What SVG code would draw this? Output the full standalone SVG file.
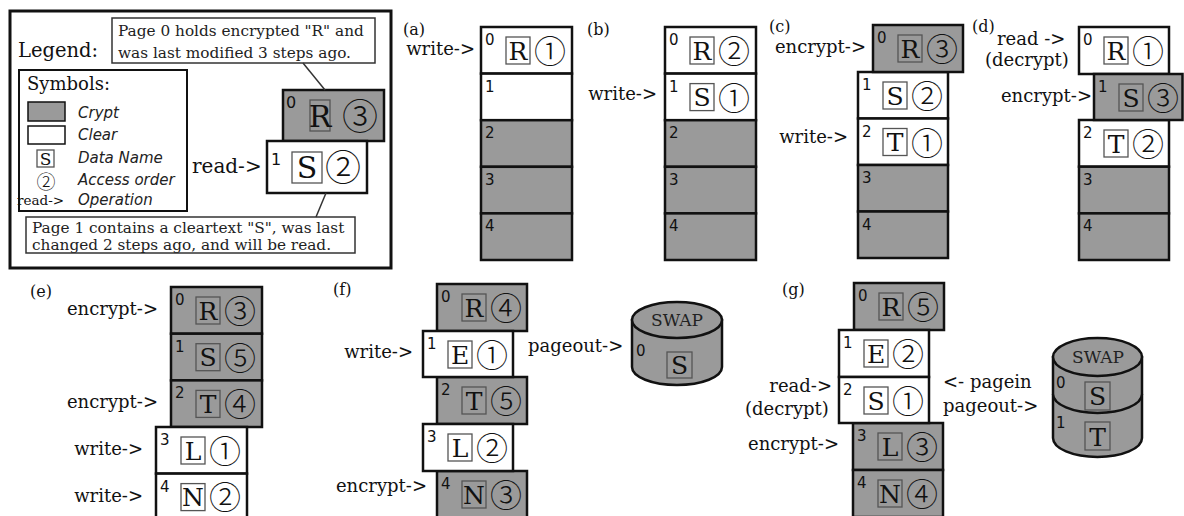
<svg xmlns="http://www.w3.org/2000/svg" width="1184" height="516" viewBox="0 0 1184 516">
<defs>
<style>
.cw{fill:#fff;stroke:#111;stroke-width:2.5}
.cg{fill:#9a9a9a;stroke:#111;stroke-width:2.5}
.num{font-family:"DejaVu Sans",sans-serif;font-size:15px;fill:#111}
.lb{fill:none;stroke:#555;stroke-width:1.3}
.let{font-family:"DejaVu Serif",serif;font-size:25px;text-anchor:middle;fill:#111}
.ord{font-family:"Noto Sans CJK JP","DejaVu Sans",sans-serif;font-size:32px;font-weight:300;text-anchor:middle;fill:#111}
.op{font-family:"DejaVu Serif",serif;font-size:18px;fill:#111}
.end{text-anchor:end}
.pl{font-family:"DejaVu Serif",serif;font-size:16px;fill:#111}
.call{font-family:"DejaVu Serif",serif;font-size:15.3px;fill:#222}
.cbox{fill:#fff;stroke:#333;stroke-width:1.5}
.it{font-family:"DejaVu Sans",sans-serif;font-style:italic;font-size:15px;fill:#222}
.swap{fill:#9a9a9a;stroke:#111;stroke-width:2.5}
.swt{font-family:"DejaVu Serif",serif;font-size:17px;text-anchor:middle;fill:#222}
.conn{stroke:#333;stroke-width:1.5;fill:none}
</style>
</defs>
<rect width="1184" height="516" fill="#fff"/>

<!-- Legend -->
<g id="legend">
<rect x="10" y="11" width="381" height="257" fill="#fff" stroke="#111" stroke-width="3"/>
<text x="18" y="57" font-family="DejaVu Serif,serif" font-size="19.5" fill="#111">Legend:</text>
<g id="callout-top">
<rect class="cbox" x="112" y="18" width="263" height="45"/>
<text class="call" x="118" y="36">Page 0 holds encrypted "R" and</text>
<text class="call" x="118" y="58">was last modified 3 steps ago.</text>
</g>
<g id="symbols">
<rect x="19" y="70" width="168" height="141" fill="#fff" stroke="#111" stroke-width="2"/>
<text x="27" y="90" font-family="DejaVu Serif,serif" font-size="18" fill="#111">Symbols:</text>
<rect x="28" y="102" width="37" height="19" fill="#9a9a9a" stroke="#111" stroke-width="1.5"/>
<text class="it" x="78" y="118">Crypt</text>
<rect x="28" y="126" width="37" height="18" fill="#fff" stroke="#111" stroke-width="1.5"/>
<text class="it" x="78" y="140">Clear</text>
<rect class="lb" x="37" y="150" width="17" height="17"/>
<text x="45.5" y="165" font-family="DejaVu Serif,serif" font-size="17" text-anchor="middle" fill="#111">S</text>
<text class="it" x="78" y="163">Data Name</text>
<text class="ord" x="46" y="189" style="font-size:19px">②</text>
<text class="it" x="78" y="185">Access order</text>
<text x="17" y="205" font-family="DejaVu Serif,serif" font-size="13.5" fill="#111">read-&gt;</text>
<text class="it" x="78" y="205">Operation</text>
</g>
<g id="legend-page0">
<rect class="cg" x="283" y="90" width="101" height="51" stroke-width="3"/>
<text class="num" x="286" y="108" style="font-size:16px">0</text>
<rect class="lb" x="310" y="100" width="20" height="31"/>
<text class="let" x="320" y="127" style="font-size:30px">R</text>
<text class="ord" x="360" y="130" style="font-size:36px">③</text>
</g>
<g id="legend-page1">
<rect class="cw" x="267" y="141" width="100" height="52" stroke-width="3"/>
<text class="num" x="271" y="165" style="font-size:16px">1</text>
<rect class="lb" x="292" y="152" width="30" height="31"/>
<text class="let" x="307" y="178" style="font-size:30px">S</text>
<text class="ord" x="343" y="181" style="font-size:36px">②</text>
</g>
<text class="op" x="192" y="173" style="font-size:20px">read-&gt;</text>
<g id="callout-bottom">
<rect class="cbox" x="26" y="217" width="329" height="36"/>
<text class="call" x="32" y="233">Page 1 contains a cleartext "S", was last</text>
<text class="call" x="32" y="250">changed 2 steps ago, and will be read.</text>
</g>
</g>

<g id="connectors">
<line class="conn" x1="303" y1="63" x2="325" y2="90"/>
<line class="conn" x1="326" y1="193" x2="316" y2="217"/>
</g>

<!-- (a) -->
<g id="panel-a">
<text class="pl" x="403" y="35">(a)</text>
<text class="op end" x="475" y="55">write-&gt;</text>
<g id="a0" transform="translate(481,27)"><rect class="cw" width="91" height="46.6"/><text class="num" x="4" y="18">0</text><rect class="lb" x="25" y="10" width="24" height="27"/><text class="let" x="37" y="32.5">R</text><text class="ord" x="69" y="36">①</text></g>
<g id="a1" transform="translate(481,73.6)"><rect class="cw" width="91" height="46.6"/><text class="num" x="4" y="18">1</text></g>
<g id="a2" transform="translate(481,120.2)"><rect class="cg" width="91" height="46.6"/><text class="num" x="4" y="18">2</text></g>
<g id="a3" transform="translate(481,166.8)"><rect class="cg" width="91" height="46.6"/><text class="num" x="4" y="18">3</text></g>
<g id="a4" transform="translate(481,213.4)"><rect class="cg" width="91" height="46.6"/><text class="num" x="4" y="18">4</text></g>
</g>

<!-- (b) -->
<g id="panel-b">
<text class="pl" x="587" y="35">(b)</text>
<text class="op end" x="657" y="100">write-&gt;</text>
<g id="b0" transform="translate(665,27)"><rect class="cw" width="91" height="46.6"/><text class="num" x="4" y="18">0</text><rect class="lb" x="25" y="10" width="24" height="27"/><text class="let" x="37" y="32.5">R</text><text class="ord" x="69" y="36">②</text></g>
<g id="b1" transform="translate(665,73.6)"><rect class="cw" width="91" height="46.6"/><text class="num" x="4" y="18">1</text><rect class="lb" x="25" y="10" width="24" height="27"/><text class="let" x="37" y="32.5">S</text><text class="ord" x="69" y="36">①</text></g>
<g id="b2" transform="translate(665,120.2)"><rect class="cg" width="91" height="46.6"/><text class="num" x="4" y="18">2</text></g>
<g id="b3" transform="translate(665,166.8)"><rect class="cg" width="91" height="46.6"/><text class="num" x="4" y="18">3</text></g>
<g id="b4" transform="translate(665,213.4)"><rect class="cg" width="91" height="46.6"/><text class="num" x="4" y="18">4</text></g>
</g>

<!-- (c) -->
<g id="panel-c">
<text class="pl" x="769" y="32">(c)</text>
<text class="op end" x="866" y="53">encrypt-&gt;</text>
<text class="op end" x="848" y="143">write-&gt;</text>
<g id="c1" transform="translate(858,72)"><rect class="cw" width="90" height="46.5"/><text class="num" x="4" y="18">1</text><rect class="lb" x="25" y="10" width="24" height="27"/><text class="let" x="37" y="32.5">S</text><text class="ord" x="69" y="36">②</text></g>
<g id="c2" transform="translate(858,118.5)"><rect class="cw" width="90" height="46.5"/><text class="num" x="4" y="18">2</text><rect class="lb" x="25" y="10" width="24" height="27"/><text class="let" x="37" y="32.5">T</text><text class="ord" x="69" y="36">①</text></g>
<g id="c3" transform="translate(858,165)"><rect class="cg" width="90" height="46.5"/><text class="num" x="4" y="18">3</text></g>
<g id="c4" transform="translate(858,211.5)"><rect class="cg" width="90" height="46.5"/><text class="num" x="4" y="18">4</text></g>
<g id="c0" transform="translate(873,25)"><rect class="cg" width="90" height="47"/><text class="num" x="4" y="18">0</text><rect class="lb" x="25" y="10" width="24" height="27"/><text class="let" x="37" y="32.5">R</text><text class="ord" x="69" y="36">③</text></g>
</g>

<!-- (d) -->
<g id="panel-d">
<text class="pl" x="972" y="32">(d)</text>
<text class="op" x="997" y="45">read -&gt;</text>
<text class="op" x="985" y="66">(decrypt)</text>
<text class="op end" x="1092" y="102">encrypt-&gt;</text>
<g id="d0" transform="translate(1079,27)"><rect class="cw" width="90" height="47"/><text class="num" x="4" y="18">0</text><rect class="lb" x="25" y="10" width="24" height="27"/><text class="let" x="37" y="32.5">R</text><text class="ord" x="69" y="36">①</text></g>
<g id="d2" transform="translate(1079,120)"><rect class="cw" width="90" height="46.7"/><text class="num" x="4" y="18">2</text><rect class="lb" x="25" y="10" width="24" height="27"/><text class="let" x="37" y="32.5">T</text><text class="ord" x="69" y="36">②</text></g>
<g id="d3" transform="translate(1079,166.7)"><rect class="cg" width="90" height="46.7"/><text class="num" x="4" y="18">3</text></g>
<g id="d4" transform="translate(1079,213.4)"><rect class="cg" width="90" height="46.6"/><text class="num" x="4" y="18">4</text></g>
<g id="d1" transform="translate(1094,74)"><rect class="cg" width="88.5" height="46"/><text class="num" x="4" y="18">1</text><rect class="lb" x="25" y="10" width="24" height="27"/><text class="let" x="37" y="32.5">S</text><text class="ord" x="69" y="36">③</text></g>
</g>

<!-- (e) -->
<g id="panel-e">
<text class="pl" x="30" y="297">(e)</text>
<text class="op end" x="158" y="315">encrypt-&gt;</text>
<text class="op end" x="158" y="408">encrypt-&gt;</text>
<text class="op end" x="143" y="455">write-&gt;</text>
<text class="op end" x="143" y="502">write-&gt;</text>
<g id="e0" transform="translate(171,287)"><rect class="cg" width="91" height="46.7"/><text class="num" x="4" y="18">0</text><rect class="lb" x="25" y="10" width="24" height="27"/><text class="let" x="37" y="32.5">R</text><text class="ord" x="69" y="36">③</text></g>
<g id="e1" transform="translate(171,333.7)"><rect class="cg" width="91" height="46.7"/><text class="num" x="4" y="18">1</text><rect class="lb" x="25" y="10" width="24" height="27"/><text class="let" x="37" y="32.5">S</text><text class="ord" x="69" y="36">⑤</text></g>
<g id="e2" transform="translate(171,380.4)"><rect class="cg" width="91" height="46.6"/><text class="num" x="4" y="18">2</text><rect class="lb" x="25" y="10" width="24" height="27"/><text class="let" x="37" y="32.5">T</text><text class="ord" x="69" y="36">④</text></g>
<g id="e3" transform="translate(156,427)"><rect class="cw" width="91" height="46.6"/><text class="num" x="4" y="18">3</text><rect class="lb" x="25" y="10" width="24" height="27"/><text class="let" x="37" y="32.5">L</text><text class="ord" x="69" y="36">①</text></g>
<g id="e4" transform="translate(156,473.6)"><rect class="cw" width="91" height="46.6"/><text class="num" x="4" y="18">4</text><rect class="lb" x="25" y="10" width="24" height="27"/><text class="let" x="37" y="32.5">N</text><text class="ord" x="69" y="35">②</text></g>
</g>

<!-- (f) -->
<g id="panel-f">
<text class="pl" x="333" y="295">(f)</text>
<text class="op end" x="413" y="358">write-&gt;</text>
<text class="op end" x="427" y="492">encrypt-&gt;</text>
<text class="op" x="528" y="352">pageout-&gt;</text>
<g id="f0" transform="translate(437,284)"><rect class="cg" width="90" height="47"/><text class="num" x="4" y="18">0</text><rect class="lb" x="25" y="10" width="24" height="27"/><text class="let" x="37" y="32.5">R</text><text class="ord" x="69" y="36">④</text></g>
<g id="f2" transform="translate(437,377)"><rect class="cg" width="90" height="47"/><text class="num" x="4" y="18">2</text><rect class="lb" x="25" y="10" width="24" height="27"/><text class="let" x="37" y="32.5">T</text><text class="ord" x="69" y="36">⑤</text></g>
<g id="f4" transform="translate(437,471)"><rect class="cg" width="90" height="47"/><text class="num" x="4" y="18">4</text><rect class="lb" x="25" y="10" width="24" height="27"/><text class="let" x="37" y="32.5">N</text><text class="ord" x="69" y="36">③</text></g>
<g id="f1" transform="translate(423,331)"><rect class="cw" width="90" height="46"/><text class="num" x="4" y="18">1</text><rect class="lb" x="25" y="10" width="24" height="27"/><text class="let" x="37" y="32.5">E</text><text class="ord" x="69" y="36">①</text></g>
<g id="f3" transform="translate(423,424)"><rect class="cw" width="90" height="47"/><text class="num" x="4" y="18">3</text><rect class="lb" x="25" y="10" width="24" height="27"/><text class="let" x="37" y="32.5">L</text><text class="ord" x="69" y="36">②</text></g>
<g id="swap-f">
<path class="swap" d="M632,320 L632,367 A45,18 0 0 0 722,367 L722,320 Z"/>
<ellipse class="swap" cx="677" cy="320" rx="45" ry="18"/>
<text class="swt" x="677" y="326">SWAP</text>
<text class="num" x="636" y="356">0</text>
<rect class="lb" x="667" y="352" width="25" height="26"/>
<text class="let" x="679.5" y="374">S</text>
</g>
</g>

<!-- (g) -->
<g id="panel-g">
<text class="pl" x="782" y="295">(g)</text>
<text class="op end" x="832" y="392">read-&gt;</text>
<text class="op" x="745" y="415">(decrypt)</text>
<text class="op" x="748" y="450">encrypt-&gt;</text>
<text class="op" x="943" y="388">&lt;- pagein</text>
<text class="op" x="943" y="412">pageout-&gt;</text>
<g id="g0" transform="translate(854,283)"><rect class="cg" width="90" height="47"/><text class="num" x="4" y="18">0</text><rect class="lb" x="25" y="10" width="24" height="27"/><text class="let" x="37" y="32.5">R</text><text class="ord" x="69" y="36">⑤</text></g>
<g id="g3" transform="translate(853,423)"><rect class="cg" width="90" height="47"/><text class="num" x="4" y="18">3</text><rect class="lb" x="25" y="10" width="24" height="27"/><text class="let" x="37" y="32.5">L</text><text class="ord" x="69" y="36">③</text></g>
<g id="g4" transform="translate(853,470)"><rect class="cg" width="90" height="47"/><text class="num" x="4" y="18">4</text><rect class="lb" x="25" y="10" width="24" height="27"/><text class="let" x="37" y="32.5">N</text><text class="ord" x="69" y="36">④</text></g>
<g id="g1" transform="translate(839,330)"><rect class="cw" width="90" height="47"/><text class="num" x="4" y="18">1</text><rect class="lb" x="25" y="10" width="24" height="27"/><text class="let" x="37" y="32.5">E</text><text class="ord" x="69" y="36">②</text></g>
<g id="g2" transform="translate(839,377)"><rect class="cw" width="90" height="46"/><text class="num" x="4" y="18">2</text><rect class="lb" x="25" y="10" width="24" height="27"/><text class="let" x="37" y="32.5">S</text><text class="ord" x="69" y="36">①</text></g>
<g id="swap-g">
<path class="swap" d="M1053,357 L1053,438 A44.5,19 0 0 0 1142,438 L1142,357 Z"/>
<path class="swap" d="M1053,394 A44.5,19 0 0 0 1142,394" fill="none"/>
<ellipse class="swap" cx="1097.5" cy="357" rx="44.5" ry="19"/>
<text class="swt" x="1098" y="363">SWAP</text>
<text class="num" x="1056" y="388">0</text>
<rect class="lb" x="1085" y="382" width="25" height="28"/>
<text class="let" x="1097.5" y="405">S</text>
<text class="num" x="1056" y="428">1</text>
<rect class="lb" x="1085" y="422" width="25" height="28"/>
<text class="let" x="1097.5" y="446">T</text>
</g>
</g>
</svg>
